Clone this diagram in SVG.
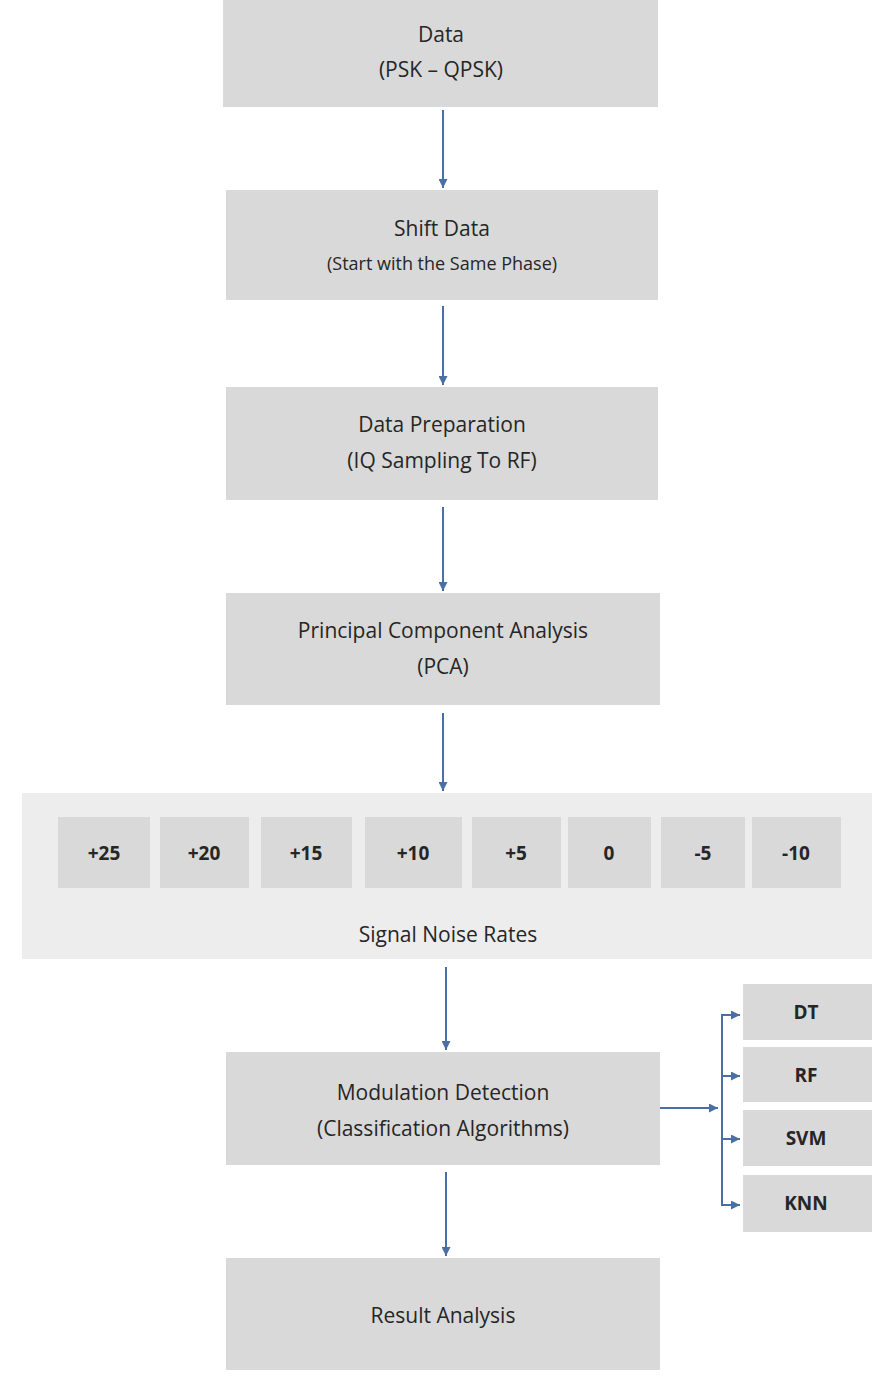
<svg xmlns="http://www.w3.org/2000/svg" width="890" height="1380" viewBox="0 0 890 1380">
<defs>
<marker id="ah" viewBox="0 0 10 10" refX="10" refY="5" markerWidth="9" markerHeight="9" markerUnits="userSpaceOnUse" orient="auto"><path d="M0,0 L10,5 L0,10 z" fill="#4a6fa5"/></marker>
<style>
.b{fill:#d9d9d9}
.t{font-family:"Open Sans","Liberation Sans",sans-serif;font-size:21px;fill:#262626;text-anchor:middle}
.s{font-size:18px}
.k{font-family:"Open Sans","Liberation Sans",sans-serif;font-size:19px;font-weight:bold;fill:#262626;text-anchor:middle}
.c{stroke:#4a6fa5;stroke-width:2;fill:none}
</style>
</defs>
<rect width="890" height="1380" fill="#fff"/>
<g id="n1"><rect class="b" x="223" y="0" width="435" height="107"/><text class="t" x="441" y="42">Data</text><text class="t" x="441" y="77">(PSK – QPSK)</text></g>
<g id="n2"><rect class="b" x="226" y="190" width="432" height="110"/><text class="t" x="442" y="236">Shift Data</text><text class="t s" x="442" y="270">(Start with the Same Phase)</text></g>
<g id="n3"><rect class="b" x="226" y="387" width="432" height="113"/><text class="t" x="442" y="432">Data Preparation</text><text class="t" x="442" y="468">(IQ Sampling To RF)</text></g>
<g id="n4"><rect class="b" x="226" y="593" width="434" height="112"/><text class="t" x="443" y="638">Principal Component Analysis</text><text class="t" x="443" y="674">(PCA)</text></g>
<g id="snr"><rect x="22" y="793" width="850" height="166" fill="#ededed"/>
<rect class="b" x="58" y="817" width="92" height="71"/><text class="k" x="104" y="860">+25</text>
<rect class="b" x="160" y="817" width="89" height="71"/><text class="k" x="204" y="860">+20</text>
<rect class="b" x="261" y="817" width="91" height="71"/><text class="k" x="306" y="860">+15</text>
<rect class="b" x="365" y="817" width="97" height="71"/><text class="k" x="413" y="860">+10</text>
<rect class="b" x="472" y="817" width="89" height="71"/><text class="k" x="516" y="860">+5</text>
<rect class="b" x="568" y="817" width="83" height="71"/><text class="k" x="609" y="860">0</text>
<rect class="b" x="661" y="817" width="84" height="71"/><text class="k" x="703" y="860">-5</text>
<rect class="b" x="752" y="817" width="89" height="71"/><text class="k" x="796" y="860">-10</text>
<text class="t" x="448" y="942">Signal Noise Rates</text></g>
<g id="n5"><rect class="b" x="226" y="1052" width="434" height="113"/><text class="t" x="443" y="1100">Modulation Detection</text><text class="t" x="443" y="1136">(Classification Algorithms)</text></g>
<g id="n6"><rect class="b" x="226" y="1258" width="434" height="112"/><text class="t" x="443" y="1323">Result Analysis</text></g>
<g id="dt"><rect class="b" x="743" y="984" width="129" height="56"/><text class="k" x="806" y="1019">DT</text></g>
<g id="rf"><rect class="b" x="743" y="1047" width="129" height="55"/><text class="k" x="806" y="1082">RF</text></g>
<g id="svm"><rect class="b" x="743" y="1110" width="129" height="56"/><text class="k" x="806" y="1145">SVM</text></g>
<g id="knn"><rect class="b" x="743" y="1175" width="129" height="57"/><text class="k" x="806" y="1210">KNN</text></g>
<g id="connectors">
<line class="c" x1="443" y1="110" x2="443" y2="188" marker-end="url(#ah)"/>
<line class="c" x1="443" y1="306" x2="443" y2="385" marker-end="url(#ah)"/>
<line class="c" x1="443" y1="507" x2="443" y2="591" marker-end="url(#ah)"/>
<line class="c" x1="443" y1="713" x2="443" y2="791" marker-end="url(#ah)"/>
<line class="c" x1="446" y1="967" x2="446" y2="1050" marker-end="url(#ah)"/>
<line class="c" x1="446" y1="1172" x2="446" y2="1256" marker-end="url(#ah)"/>
<line class="c" x1="660" y1="1108" x2="718" y2="1108" marker-end="url(#ah)"/>
<path class="c" d="M732,1015 H722 V1205 H732"/>
<line class="c" x1="722" y1="1015" x2="740" y2="1015" marker-end="url(#ah)"/>
<line class="c" x1="722" y1="1076" x2="740" y2="1076" marker-end="url(#ah)"/>
<line class="c" x1="722" y1="1139" x2="740" y2="1139" marker-end="url(#ah)"/>
<line class="c" x1="722" y1="1205" x2="740" y2="1205" marker-end="url(#ah)"/>
</g>
</svg>
